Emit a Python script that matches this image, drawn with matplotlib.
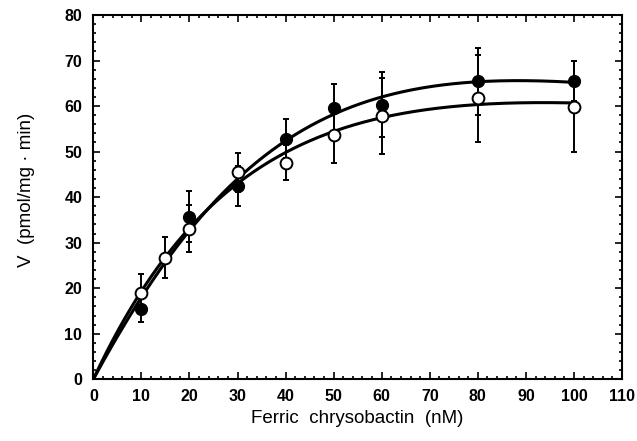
import numpy as np
import matplotlib
matplotlib.use("Agg")
import matplotlib.pyplot as plt
from matplotlib.ticker import MultipleLocator

plt.rcParams['font.family'] = ['Liberation Sans', 'DejaVu Sans']

# ferric chrysobactin concentration (nM) and uptake rate (pmol/mg.min)
conc_filled = [10, 20, 30, 40, 50, 60, 80, 100]
v_filled = [15.4, 35.7, 42.4, 52.8, 59.5, 60.3, 65.4, 65.5]
err_filled = [2.8, 5.6, 4.4, 4.3, 5.4, 7.1, 7.4, 4.4]

conc_open = [10, 15, 20, 30, 40, 50, 60, 80, 100]
v_open = [19.0, 26.7, 33.1, 45.5, 47.6, 53.7, 57.8, 61.7, 59.9]
err_open = [4.1, 4.5, 5.1, 4.3, 3.9, 6.2, 8.4, 9.5, 10.0]


def fit_curve(x, y, xs):
    # substrate-inhibition fit V = Vmax*S / (Km + S + S^2/Ki)
    # grid over Km, Ki; Vmax solved by least squares for each pair
    x = np.asarray(x, float)
    y = np.asarray(y, float)
    best = None
    for km in np.linspace(20, 250, 231):
        for ki in np.linspace(20, 400, 381):
            g = x / (km + x + x**2 / ki)
            vmax = np.dot(g, y) / np.dot(g, g)
            sse = np.sum((y - vmax * g) ** 2)
            if best is None or sse < best[0]:
                best = (sse, vmax, km, ki)
    _, vmax, km, ki = best
    return vmax * xs / (km + xs + xs**2 / ki)


fig = plt.figure(figsize=(6.37, 4.41), dpi=100)
ax = fig.add_axes([0.1465, 0.140, 0.830, 0.826])

xs = np.linspace(0, 100, 300)
ax.plot(xs, fit_curve(conc_filled, v_filled, xs), color='black', lw=2.2, zorder=2)
ax.plot(xs, fit_curve(conc_open, v_open, xs), color='black', lw=2.2, zorder=2)

ax.errorbar(conc_filled, v_filled, yerr=err_filled, fmt='o', color='black',
            mfc='black', mec='black', ms=8.5, elinewidth=1.4, capsize=2.5,
            capthick=1.4, zorder=3)
ax.errorbar(conc_open, v_open, yerr=err_open, fmt='o', color='black',
            mfc='white', mec='black', mew=1.4, ms=8.5, elinewidth=1.4,
            capsize=2.5, capthick=1.4, zorder=4)

ax.set_xlim(0, 110)
ax.set_ylim(0, 80)
ax.xaxis.set_major_locator(MultipleLocator(10))
ax.xaxis.set_minor_locator(MultipleLocator(2))
ax.yaxis.set_major_locator(MultipleLocator(10))
ax.yaxis.set_minor_locator(MultipleLocator(2))
ax.tick_params(which='both', direction='in', top=True, right=True,
               width=1.2, labelsize=11.5)
ax.tick_params(which='major', length=5)
ax.tick_params(which='minor', length=2.5)
ax.tick_params(axis='x', which='major', pad=7)
ax.tick_params(axis='y', which='major', pad=8)
for lbl in ax.get_xticklabels() + ax.get_yticklabels():
    lbl.set_weight('bold')
for sp in ax.spines.values():
    sp.set_linewidth(1.5)

ax.set_xlabel('Ferric  chrysobactin  (nM)', fontsize=13.5)
ax.set_ylabel('V  (pmol/mg \u00b7 min)', fontsize=13.5)
ax.xaxis.set_label_coords(0.5, -0.085)
ax.yaxis.set_label_coords(-0.11, 0.52)

fig.savefig('out.png', dpi=100)
